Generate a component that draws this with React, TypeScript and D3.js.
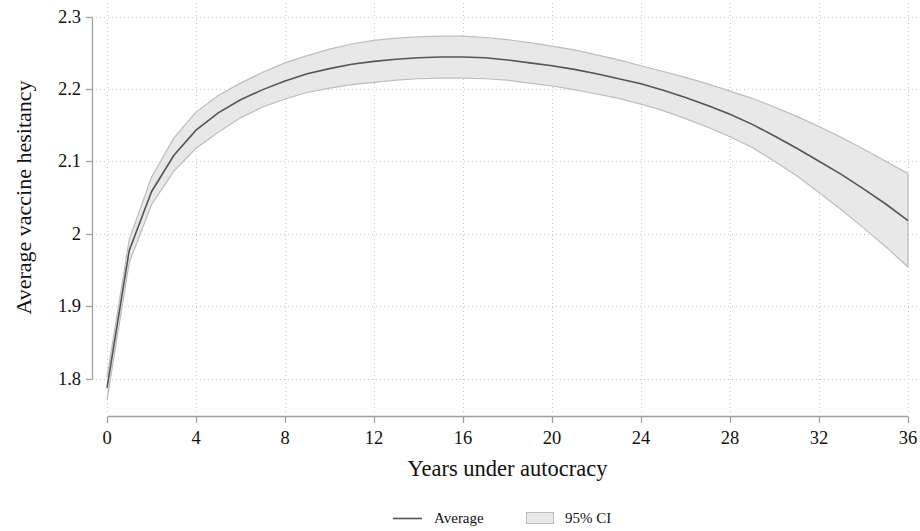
import React from "react";
import * as d3 from "d3";

// Years under autocracy (0..36) and the predicted hesitancy with its 95% band
const years: number[] = Array.from({ length: 37 }, (_, i) => i);

const average: number[] = [
  1.787, 1.977, 2.058, 2.108, 2.143, 2.167, 2.185, 2.199, 2.211, 2.221,
  2.228, 2.234, 2.238, 2.241, 2.243, 2.244, 2.244, 2.243, 2.240, 2.236,
  2.232, 2.227, 2.221, 2.214, 2.207, 2.198, 2.188, 2.177, 2.165, 2.151,
  2.135, 2.118, 2.100, 2.082, 2.062, 2.041, 2.018,
];

const ciUpper: number[] = [
  1.802, 1.992, 2.078, 2.132, 2.168, 2.191, 2.208, 2.223, 2.236, 2.246,
  2.255, 2.262, 2.267, 2.270, 2.272, 2.273, 2.273, 2.271, 2.268, 2.264,
  2.259, 2.254, 2.247, 2.240, 2.232, 2.224, 2.216, 2.207, 2.197, 2.187,
  2.175, 2.162, 2.148, 2.133, 2.117, 2.100, 2.083,
];

const ciLower: number[] = [
  1.770, 1.960, 2.040, 2.086, 2.118, 2.140, 2.160, 2.175, 2.186, 2.195,
  2.201, 2.206, 2.209, 2.212, 2.214, 2.215, 2.215, 2.214, 2.212, 2.208,
  2.204, 2.199, 2.193, 2.187, 2.179, 2.170, 2.159, 2.147, 2.134, 2.119,
  2.100, 2.080, 2.057, 2.033, 2.008, 1.982, 1.954,
];

const xTicks: number[] = [0, 4, 8, 12, 16, 20, 24, 28, 32, 36];
const yTicks: number[] = [1.8, 1.9, 2.0, 2.1, 2.2, 2.3];
const yTickLabels: string[] = ["1.8", "1.9", "2", "2.1", "2.2", "2.3"];

const W = 920;
const H = 531;
const FONT = "'Liberation Serif', 'Times New Roman', serif";

export default function App() {
  const x = d3.scaleLinear().domain([0, 36]).range([107, 908]);
  const y = d3.scaleLinear().domain([1.8, 2.3]).range([378.5, 16.5]);

  const rows = years.map((t, i) => ({
    t,
    m: average[i],
    lo: ciLower[i],
    hi: ciUpper[i],
  }));

  const band = d3
    .area<(typeof rows)[number]>()
    .x((d) => x(d.t))
    .y0((d) => y(d.lo))
    .y1((d) => y(d.hi));
  const upperLine = d3
    .line<(typeof rows)[number]>()
    .x((d) => x(d.t))
    .y((d) => y(d.hi));
  const lowerLine = d3
    .line<(typeof rows)[number]>()
    .x((d) => x(d.t))
    .y((d) => y(d.lo));
  const meanLine = d3
    .line<(typeof rows)[number]>()
    .x((d) => x(d.t))
    .y((d) => y(d.m));

  const gridColor = "#c8c8c8";
  const axisColor = "#a0a0a0";
  const plotLeft = 96;
  const plotRight = 920;
  const plotTop = 3;
  const plotBottom = 414;
  const xAxisY = 416.5;
  const yAxisX = 92.5;

  return (
    <svg
      width={W}
      height={H}
      style={{ position: "absolute", left: 0, top: 0, background: "#fff" }}
      fontFamily={FONT}
    >
      <rect x={0} y={0} width={W} height={H} fill="#fff" />

      {/* grid */}
      <g stroke={gridColor} strokeWidth={1} strokeDasharray="1,3">
        {yTicks.map((v) => (
          <line
            key={"gy" + v}
            x1={plotLeft}
            x2={plotRight}
            y1={Math.round(y(v)) + 0.5}
            y2={Math.round(y(v)) + 0.5}
          />
        ))}
        {xTicks.map((v) => (
          <line
            key={"gx" + v}
            x1={Math.round(x(v)) + 0.5}
            x2={Math.round(x(v)) + 0.5}
            y1={plotTop}
            y2={plotBottom}
          />
        ))}
      </g>

      {/* confidence band */}
      <path d={band(rows) ?? ""} fill="#e8e8e8" stroke="none" />
      <path d={upperLine(rows) ?? ""} fill="none" stroke="#bdbdbd" strokeWidth={1.2} />
      <path d={lowerLine(rows) ?? ""} fill="none" stroke="#bdbdbd" strokeWidth={1.2} />
      <line
        x1={x(36)}
        x2={x(36)}
        y1={y(ciUpper[36])}
        y2={y(ciLower[36])}
        stroke="#bdbdbd"
        strokeWidth={1.2}
      />

      {/* average */}
      <path d={meanLine(rows) ?? ""} fill="none" stroke="#555" strokeWidth={1.6} />

      {/* y axis */}
      <line
        x1={yAxisX}
        x2={yAxisX}
        y1={Math.round(y(2.3)) + 0.5}
        y2={Math.round(y(1.8)) + 0.5}
        stroke={axisColor}
        strokeWidth={1.3}
      />
      {yTicks.map((v, i) => (
        <g key={"yt" + v}>
          <line
            x1={86}
            x2={yAxisX}
            y1={Math.round(y(v)) + 0.5}
            y2={Math.round(y(v)) + 0.5}
            stroke={axisColor}
            strokeWidth={1.3}
          />
          <text
            x={81}
            y={y(v)}
            textAnchor="end"
            dominantBaseline="central"
            fontSize={18.5}
            fill="#111"
          >
            {yTickLabels[i]}
          </text>
        </g>
      ))}
      <text
        transform={`translate(23, ${(y(1.8) + y(2.3)) / 2}) rotate(-90)`}
        textAnchor="middle"
        dominantBaseline="central"
        fontSize={22}
        fill="#111"
      >
        Average vaccine hesitancy
      </text>

      {/* x axis */}
      <line
        x1={Math.round(x(0)) + 0.5}
        x2={Math.round(x(36)) + 0.5}
        y1={xAxisY}
        y2={xAxisY}
        stroke={axisColor}
        strokeWidth={1.3}
      />
      {xTicks.map((v) => (
        <g key={"xt" + v}>
          <line
            x1={Math.round(x(v)) + 0.5}
            x2={Math.round(x(v)) + 0.5}
            y1={xAxisY}
            y2={423}
            stroke={axisColor}
            strokeWidth={1.3}
          />
          <text
            x={x(v)}
            y={438}
            textAnchor="middle"
            dominantBaseline="central"
            fontSize={18.5}
            fill="#111"
          >
            {v}
          </text>
        </g>
      ))}
      <text
        x={(x(0) + x(36)) / 2}
        y={468}
        textAnchor="middle"
        dominantBaseline="central"
        fontSize={22.5}
        fill="#111"
      >
        Years under autocracy
      </text>

      {/* legend */}
      <line x1={393} x2={422} y1={518.5} y2={518.5} stroke="#555" strokeWidth={1.6} />
      <text x={434} y={518} dominantBaseline="central" fontSize={15} fill="#111">
        Average
      </text>
      <rect
        x={526.5}
        y={512.5}
        width={27}
        height={11}
        fill="#e8e8e8"
        stroke="#bdbdbd"
        strokeWidth={1}
      />
      <text x={565} y={518} dominantBaseline="central" fontSize={15} fill="#111">
        95% CI
      </text>
    </svg>
  );
}
